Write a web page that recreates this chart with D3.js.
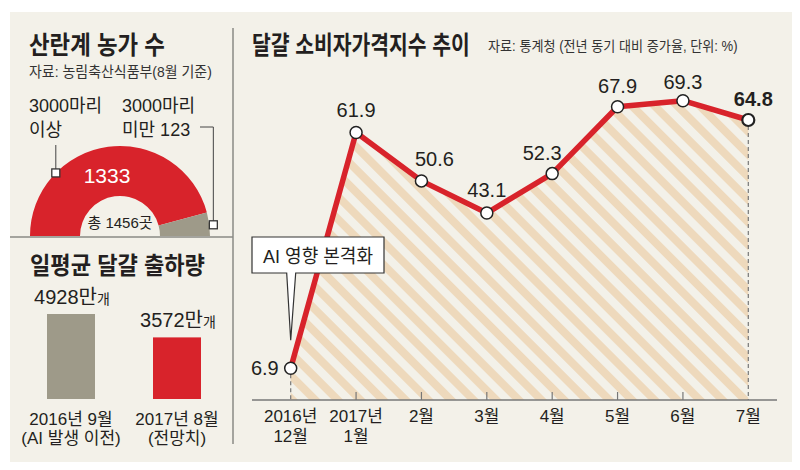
<!DOCTYPE html>
<html><head><meta charset="utf-8">
<script src="https://cdn.jsdelivr.net/npm/d3@7"></script>
<style>
body{margin:0;background:#fff}
svg{display:block}
text{font-family:"Liberation Sans","Noto Sans CJK KR",sans-serif;fill:#231f20}
</style>
</head><body><svg id="c" width="800" height="470"></svg>
<script>
// ---------- data ----------
const farmCategories = ["3000마리 이상", "3000마리 미만"];
const farmValues = [1333, 123];
const farmTotal = 1456;
const shipCategories = [["2016년 9월", "(AI 발생 이전)"], ["2017년 8월", "(전망치)"]];
const shipValues = [4928, 3572];
const months = [["2016년", "12월"], ["2017년", "1월"], ["2월"], ["3월"], ["4월"], ["5월"], ["6월"], ["7월"]];
const priceValues = [6.9, 61.9, 50.6, 43.1, 52.3, 67.9, 69.3, 64.8];

// ---------- style ----------
const BG = "#f3f1e9", RED = "#d8232b", GRAY = "#9e9a89", STRIPE = "#eed9bc", INK = "#231f20", RULE = "#8a8a84";
const svg = d3.select("#c");

function txt(g, x, y, s, size, opts = {}) {
  const t = g.append("text").attr("x", x).attr("y", y).attr("font-size", size).text(s);
  if (opts.anchor) t.attr("text-anchor", opts.anchor);
  if (opts.weight) t.attr("font-weight", opts.weight);
  if (opts.fill) t.style("fill", opts.fill);
  if (opts.width) {
    const w = t.node().getComputedTextLength();
    const k = Math.min(1, opts.width / w);
    t.attr("x", 0).attr("y", 0).attr("transform", `translate(${x},${y}) scale(${k},1)`);
  }
  return t;
}
function multi(g, x, y, lines, size, lh, anchor) {
  const t = g.append("text").attr("x", x).attr("y", y).attr("font-size", size).attr("text-anchor", anchor || "start");
  lines.forEach((s, j) => t.append("tspan").attr("x", x).attr("dy", j === 0 ? 0 : lh).text(s));
  return t;
}

// background panel
svg.append("rect").attr("x", 10).attr("y", 12).attr("width", 782).attr("height", 450).attr("fill", BG);
// dividers
svg.append("line").attr("x1", 233).attr("x2", 233).attr("y1", 28).attr("y2", 444).attr("stroke", RULE).attr("stroke-width", 1.5);
svg.append("line").attr("x1", 10).attr("x2", 233).attr("y1", 237).attr("y2", 237).attr("stroke", RULE).attr("stroke-width", 1.5);

// ---------- panel 1 : donut ----------
const p1 = svg.append("g");
txt(p1, 29, 54, "산란계 농가 수", 25, {weight: "bold", width: 136});
txt(p1, 29, 77, "자료: 농림축산식품부(8월 기준)", 15, {width: 183, fill: "#333"});

const cx = 120, cy = 236, rOut = 90, rIn = 40;
const pie = d3.pie().sort(null).startAngle(-Math.PI / 2).endAngle(Math.PI / 2);
const arcs = pie(farmValues);
const arc = d3.arc().innerRadius(rIn).outerRadius(rOut);
const dg = p1.append("g").attr("transform", `translate(${cx},${cy})`);
dg.selectAll("path").data(arcs).join("path").attr("d", arc).attr("fill", (d, i) => i === 0 ? RED : GRAY);
txt(dg, -13, -53, d3.format("d")(farmValues[0]), 21, {anchor: "middle", fill: "#fff"});
txt(dg, 0, -8, "총 " + farmTotal + "곳", 15, {anchor: "middle"});

function polar(a, r) { return [Math.sin(a) * r, -Math.cos(a) * r]; }
const a0 = arcs[0].startAngle + (arcs[0].endAngle - arcs[0].startAngle) * 0.27;
const m0 = polar(a0, rOut);
const a1 = arcs[1].startAngle + (arcs[1].endAngle - arcs[1].startAngle) * 0.55;
const m1 = polar(a1, rOut + 4);
dg.append("line").attr("x1", m0[0]).attr("x2", m0[0]).attr("y1", m0[1]).attr("y2", 145 - cy).attr("stroke", "#444").attr("stroke-width", 1);
dg.append("path").attr("d", `M${m1[0]},${m1[1]} V${127 - cy} H${200 - cx}`).attr("fill", "none").attr("stroke", "#444").attr("stroke-width", 1);
[m0, m1].forEach(m => dg.append("rect").attr("x", m[0] - 4).attr("y", m[1] - 4).attr("width", 8).attr("height", 8)
  .attr("fill", "#fff").attr("stroke", "#333").attr("stroke-width", 1.3));

const c0 = farmCategories[0].split(" "), c1 = farmCategories[1].split(" ");
multi(p1, 29, 112, [c0[0], c0[1]], 18, 24);
multi(p1, 122, 112, [c1[0], c1[1] + " " + farmValues[1]], 18, 24);

// ---------- panel 2 : bars ----------
const p2 = svg.append("g");
txt(p2, 30, 274, "일평균 달걀 출하량", 24, {weight: "bold", width: 175});
const bx = d3.scalePoint().domain(d3.range(shipValues.length)).range([71, 177]);
const by = d3.scaleLinear().domain([0, 4928]).range([399, 314]);
const bw = 48;
p2.selectAll("rect.bar").data(shipValues).join("rect").attr("class", "bar")
  .attr("x", (d, i) => bx(i) - bw / 2).attr("width", bw)
  .attr("y", d => by(d)).attr("height", d => by(0) - by(d))
  .attr("fill", (d, i) => i === 0 ? GRAY : RED);
shipValues.forEach((v, i) => {
  const t = txt(p2, bx(i) + 1, by(v) - 10, "", 20, {anchor: "middle"});
  t.append("tspan").text(v + "만");
  t.append("tspan").attr("font-size", 14).text("개");
  multi(p2, bx(i), 425, shipCategories[i], 17, 19, "middle");
});

// ---------- panel 3 : line ----------
const p3 = svg.append("g");
txt(p3, 252, 54, "달걀 소비자가격지수 추이", 25, {weight: "bold", width: 218});
txt(p3, 488, 51, "자료: 통계청 (전년 동기 대비 증가율, 단위: %)", 14, {width: 250, fill: "#333"});

const defs = svg.append("defs");
const pat = defs.append("pattern").attr("id", "stripes").attr("patternUnits", "userSpaceOnUse")
  .attr("width", 16).attr("height", 16).attr("patternTransform", "rotate(-45)");
pat.append("rect").attr("width", 16).attr("height", 16).attr("fill", BG);
pat.append("rect").attr("width", 8).attr("height", 16).attr("fill", STRIPE);

const x = d3.scalePoint().domain(d3.range(months.length)).range([290.7, 748.3]);
const y = d3.scaleLinear().domain([0, 70]).range([397.9, 97.7]);
const axisY = 400;

const area = d3.area().x((d, i) => x(i)).y0(axisY).y1(d => y(d));
p3.append("path").datum(priceValues).attr("d", area).attr("fill", "url(#stripes)");

[0, priceValues.length - 1].forEach(i => {
  p3.append("line").attr("x1", x(i)).attr("x2", x(i)).attr("y1", y(priceValues[i]) + 6).attr("y2", axisY)
    .attr("stroke", "#777").attr("stroke-width", 1.2).attr("stroke-dasharray", "4,3");
});

p3.append("line").attr("x1", 252).attr("x2", 777).attr("y1", axisY).attr("y2", axisY).attr("stroke", "#777").attr("stroke-width", 1.5);
d3.range(1, months.length - 1).forEach(i => {
  p3.append("line").attr("x1", x(i)).attr("x2", x(i)).attr("y1", axisY - 8).attr("y2", axisY).attr("stroke", "#777").attr("stroke-width", 1.2);
});
months.forEach((m, i) => multi(p3, x(i), 422, m, 17, 20, "middle"));

const line = d3.line().x((d, i) => x(i)).y(d => y(d));
p3.append("path").datum(priceValues).attr("d", line).attr("fill", "none").attr("stroke", RED)
  .attr("stroke-width", 5.5).attr("stroke-linejoin", "round");

const tx = x(0), ty = y(priceValues[0]) - 28;
p3.append("path").attr("d", `M252,237 H384 V273 H${tx + 5} L${tx},${ty} L${tx - 4},273 H252 Z`)
  .attr("fill", "#fff").attr("stroke", "#333").attr("stroke-width", 1.2);
txt(p3, 318, 263, "AI 영향 본격화", 19, {anchor: "middle", width: 110});

p3.selectAll("circle.pt").data(priceValues).join("circle").attr("class", "pt")
  .attr("cx", (d, i) => x(i)).attr("cy", d => y(d)).attr("r", 6)
  .attr("fill", "#fff").attr("stroke", "#222").attr("stroke-width", (d, i) => i === priceValues.length - 1 ? 2.2 : 1.5);

const lo = [[-12, 7, "end"], [0, -15, "middle"], [13, -15, "middle"], [0, -16, "middle"], [-10, -14, "middle"],
            [0, -14, "middle"], [0, -12, "middle"], [5, -14, "middle"]];
priceValues.forEach((v, i) => {
  txt(p3, x(i) + lo[i][0], y(v) + lo[i][1], d3.format(".1f")(v), 20,
      {anchor: lo[i][2], weight: i === priceValues.length - 1 ? "bold" : null});
});
</script>
</body></html>
